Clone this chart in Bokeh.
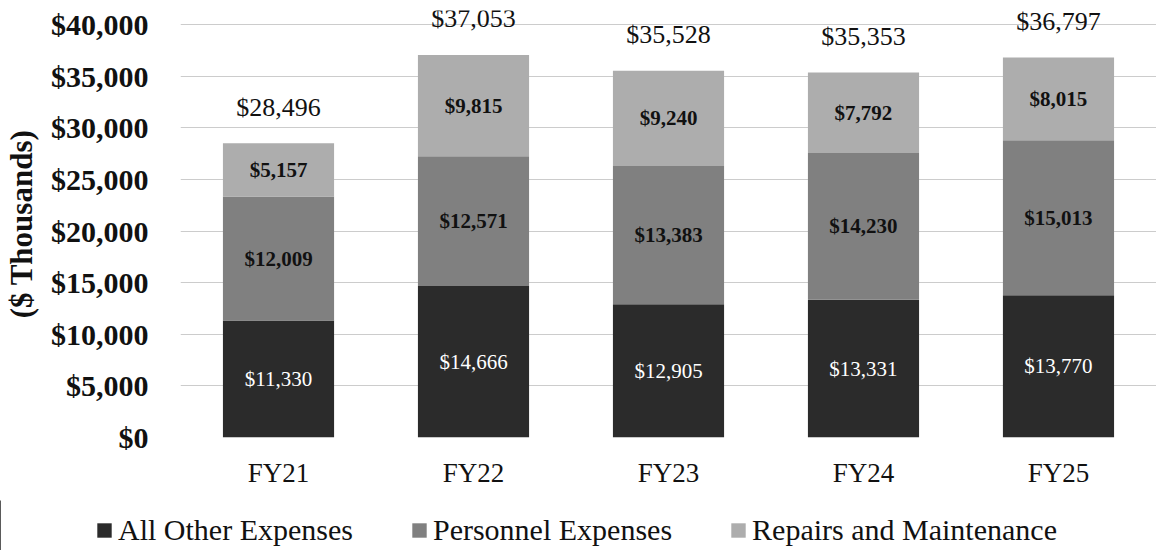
from bokeh.plotting import figure
from bokeh.models import (ColumnDataSource, FixedTicker, NumeralTickFormatter, Legend, LegendItem,
                          LabelSet)
from bokeh.embed import file_html
from bokeh.resources import INLINE

years = ["FY21", "FY22", "FY23", "FY24", "FY25"]
other = [11330, 14666, 12905, 13331, 13770]
personnel = [12009, 12571, 13383, 14230, 15013]
repairs = [5157, 9815, 9240, 7792, 8015]
totals = [28496, 37053, 35528, 35353, 36797]
series_names = ["All Other Expenses", "Personnel Expenses", "Repairs and Maintenance"]
colors = ["#2b2b2b", "#808080", "#adadad"]

FONT = "Liberation Serif"
x = list(range(len(years)))

src = ColumnDataSource(dict(
    x=x, other=other, personnel=personnel, repairs=repairs, totals=totals,
    mid_o=[o / 2 for o in other],
    mid_p=[o + p / 2 for o, p in zip(other, personnel)],
    mid_r=[o + p + r / 2 for o, p, r in zip(other, personnel, repairs)],
    top=[o + p + r for o, p, r in zip(other, personnel, repairs)],
    lab_o=[f"${v:,}" for v in other],
    lab_p=[f"${v:,}" for v in personnel],
    lab_r=[f"${v:,}" for v in repairs],
    lab_t=[f"${v:,}" for v in totals],
))

p = figure(width=1156, height=500, x_range=(-0.5026, 4.5026), y_range=(0, 41356),
           min_border_left=180, min_border_right=0, min_border_top=10, min_border_bottom=63,
           output_backend="svg", toolbar_location=None)
p.outline_line_color = None
p.background_fill_color = "white"
p.border_fill_color = "white"

rs = p.vbar_stack(["other", "personnel", "repairs"], x="x", width=0.57, source=src,
                  color=colors, line_color=None)

p.xgrid.grid_line_color = None
p.ygrid.grid_line_color = "#cccccc"
p.ygrid.grid_line_width = 1

p.yaxis.ticker = FixedTicker(ticks=list(range(0, 40001, 5000)))
p.yaxis.formatter = NumeralTickFormatter(format="$0,0")
p.yaxis.axis_line_color = None
p.yaxis.major_tick_line_color = None
p.yaxis.minor_tick_line_color = None
p.yaxis.major_label_text_font = FONT
p.yaxis.major_label_text_font_size = "30px"
p.yaxis.major_label_text_font_style = "bold"
p.yaxis.major_label_text_color = "#111111"
p.yaxis.major_label_standoff = 26
p.yaxis.axis_label = "($ Thousands)"
p.yaxis.axis_label_text_font = FONT
p.yaxis.axis_label_text_font_size = "31px"
p.yaxis.axis_label_text_font_style = "bold"
p.yaxis.axis_label_text_color = "#111111"
p.yaxis.axis_label_standoff = 9

p.xaxis.ticker = FixedTicker(ticks=x)
p.xaxis.major_label_overrides = {i: y for i, y in enumerate(years)}
p.xaxis.axis_line_color = None
p.xaxis.major_tick_line_color = None
p.xaxis.minor_tick_line_color = None
p.xaxis.major_label_text_font = FONT
p.xaxis.major_label_text_font_size = "27px"
p.xaxis.major_label_text_color = "#111111"
p.xaxis.major_label_standoff = 14

common = dict(source=src, x="x", text_align="center", text_baseline="middle", text_font=FONT)
p.add_layout(LabelSet(y="mid_o", text="lab_o", text_color="white", text_font_size="21px", **common))
p.add_layout(LabelSet(y="mid_p", text="lab_p", text_color="#111111", text_font_size="21px",
                      text_font_style="bold", **common))
p.add_layout(LabelSet(y="mid_r", text="lab_r", text_color="#111111", text_font_size="21px",
                      text_font_style="bold", **common))
p.add_layout(LabelSet(y="top", text="lab_t", text_color="#111111", text_font_size="26px",
                      y_offset=36, **common))

# Legend strip below the chart (separate root so its frame starts at the page's left edge)
lg = figure(width=1156, height=50, x_range=(100, 101), y_range=(0, 1),
            x_axis_type=None, y_axis_type=None,
            min_border=0, output_backend="svg", toolbar_location=None)
lg.outline_line_color = None
lg.grid.visible = False
lg.border_fill_color = "white"
lrs = lg.vbar_stack(["other", "personnel", "repairs"], x="x", width=0.57, source=src,
                    color=colors, line_color=None)

legend = Legend(items=[LegendItem(label=n, renderers=[r]) for n, r in zip(series_names, lrs)],
                orientation="horizontal", location=(95, 3), padding=0, margin=0,
                spacing=57, glyph_width=18, glyph_height=18, label_standoff=5, label_height=34,
                label_text_font=FONT, label_text_font_size="30px", label_text_color="#111111",
                background_fill_alpha=0, border_line_color=None)
lg.add_layout(legend)

open("out.html", "w").write(file_html([p, lg], INLINE))
